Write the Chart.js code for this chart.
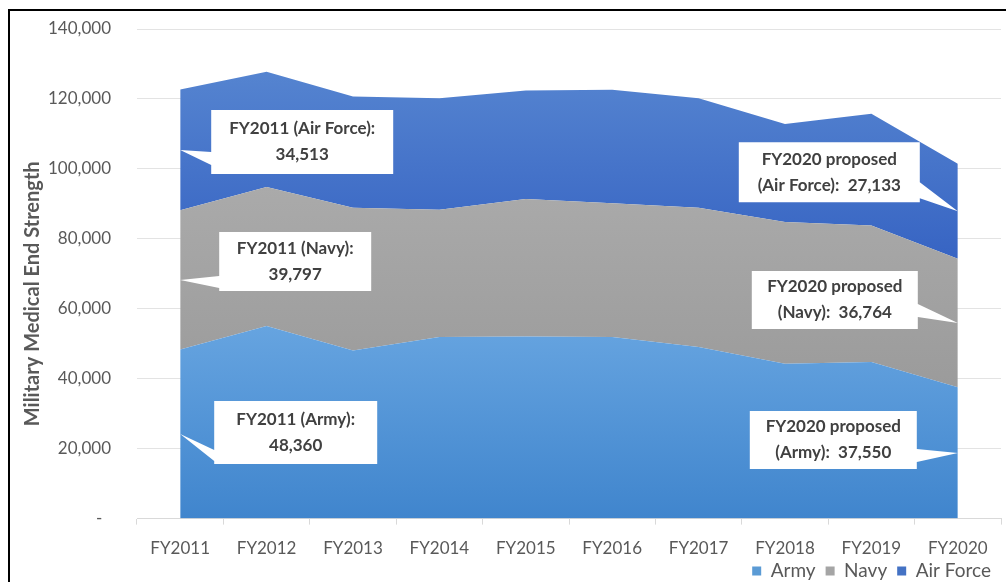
<!DOCTYPE html>
<html>
<head>
<meta charset="utf-8">
<script src="https://cdn.jsdelivr.net/npm/chart.js@4.4.1/dist/chart.umd.min.js"></script>
<style>
html,body{margin:0;padding:0;background:#fff;overflow:hidden}
#frame{position:absolute;left:8px;top:9px;width:1100px;height:700px;border-top:2px solid #000;border-left:2px solid #000}
#wrap{position:absolute;left:0;top:0;width:1006px;height:582px}
</style>
</head>
<body>
<div id="frame"></div>
<div id="wrap"><canvas id="chart"></canvas></div>
<script>
const years=["FY2011","FY2012","FY2013","FY2014","FY2015","FY2016","FY2017","FY2018","FY2019","FY2020"]
const army=[48360,55100,48100,51900,52100,51900,49100,44300,44800,37550]
const navy=[39797,39700,40800,36400,39300,38300,39800,40500,39000,36764]
const airForce=[34513,33000,31800,31900,31000,32400,31300,28000,32000,27133]
const yTicks=[0,20000,40000,60000,80000,100000,120000,140000]
const seriesNames=["Army","Navy","Air Force"]
const yTitle="Military Medical End Strength"

const legendColors=["#5b9bd5","#a5a5a5","#4472c4"]
const gradColors=[["#66a4e0","#4085cd"],["#aaaaaa","#9b9b9b"],["#5584d0","#3764c3"]]

const fmt=v=>v.toLocaleString("en-US")

// callout boxes: pointer tip sits at the middle of the band at that year
const callouts=[
{series:2,index:0,side:"left",dx:31,dy:-40,w:182,h:64,wedge:[42,55]},
{series:1,index:0,side:"left",dx:39,dy:-48,w:152,h:59,wedge:[44,56]},
{series:0,index:0,side:"left",dx:34,dy:-33,w:163,h:63,wedge:[49,60]},
{series:2,index:9,side:"right",dx:-38,dy:-69,w:181,h:60,wedge:[40,56]},
{series:1,index:9,side:"right",dx:-40,dy:-52,w:166,h:58,wedge:[33,46]},
{series:0,index:9,side:"right",dx:-41,dy:-42,w:167,h:58,wedge:[38,51]}
]
const allSeries=[army,navy,airForce]

function calloutText(c){
const v=allSeries[c.series][c.index]
const name=seriesNames[c.series]
if(c.index===0) return [years[c.index]+" ("+name+"):",fmt(v)]
return [years[c.index]+" proposed","("+name+"):  "+fmt(v)]
}

function bandGradient(i){
return function(ctx){
const chart=ctx.chart
const area=chart.chartArea
if(!area) return legendColors[i]
const y=chart.scales.y
let top=0,bottom=Infinity
for(let k=0;k<years.length;k++){
let base=0
for(let s=0;s<i;s++) base+=allSeries[s][k]
top=Math.max(top,base+allSeries[i][k])
bottom=Math.min(bottom,base)
}
const g=chart.ctx.createLinearGradient(0,y.getPixelForValue(top),0,y.getPixelForValue(bottom))
g.addColorStop(0,gradColors[i][0])
g.addColorStop(1,gradColors[i][1])
return g
}
}

const calloutPlugin={
id:"callouts",
afterLayout(chart){
// x labels hang below the shortened axis box, so don't clip them
chart.scales.x.bottom=chart.height
},
afterDatasetsDraw(chart){
const ctx=chart.ctx
const yScale=chart.scales.y
ctx.save()
callouts.forEach(c=>{
const pt=chart.getDatasetMeta(c.series).data[c.index]
const base=c.series===0?yScale.getPixelForValue(0):chart.getDatasetMeta(c.series-1).data[c.index].y
const tx=pt.x
const ty=(pt.y+base)/2
const by=ty+c.dy
ctx.beginPath()
if(c.side==="left"){
const bx=tx+c.dx
ctx.moveTo(bx,by)
ctx.lineTo(bx+c.w,by)
ctx.lineTo(bx+c.w,by+c.h)
ctx.lineTo(bx,by+c.h)
ctx.lineTo(bx,by+c.wedge[1])
ctx.lineTo(tx,ty)
ctx.lineTo(bx,by+c.wedge[0])
ctx.closePath()
}else{
const br=tx+c.dx
const bx=br-c.w
ctx.moveTo(bx,by)
ctx.lineTo(br,by)
ctx.lineTo(br,by+c.wedge[0])
ctx.lineTo(tx,ty)
ctx.lineTo(br,by+c.wedge[1])
ctx.lineTo(br,by+c.h)
ctx.lineTo(bx,by+c.h)
ctx.closePath()
}
ctx.fillStyle="#ffffff"
ctx.fill()
const lines=calloutText(c)
const cx=c.side==="left"?tx+c.dx+c.w/2:tx+c.dx-c.w/2
const cy=by+c.h/2
ctx.fillStyle="#404040"
ctx.font="bold 17px Lato"
ctx.textAlign="center"
ctx.textBaseline="middle"
ctx.fillText(lines[0],cx,cy-13)
ctx.fillText(lines[1],cx,cy+13)
})
ctx.restore()
}
}

// axis title, drawn a little below the middle of the y axis like the original
const yTitlePlugin={
id:"ytitle",
afterDraw(chart){
const ctx=chart.ctx
const a=chart.chartArea
ctx.save()
ctx.translate(33,(a.top+a.bottom)/2+20)
ctx.rotate(-Math.PI/2)
ctx.fillStyle="#595959"
ctx.font="bold 20px Lato"
ctx.textAlign="center"
ctx.textBaseline="middle"
ctx.fillText(yTitle,0,0)
ctx.restore()
}
}

const ctx=document.getElementById("chart")
const chart=new Chart(ctx,{
type:"line",
data:{
labels:years,
datasets:seriesNames.map((n,i)=>({
label:n,
data:allSeries[i],
fill:i===0?"origin":"-1",
backgroundColor:bandGradient(i),
borderWidth:0,
pointRadius:0,
tension:0
}))
},
options:{
responsive:true,
maintainAspectRatio:false,
animation:false,
layout:{padding:{left:0,top:29,right:5,bottom:-8.5}},
plugins:{
tooltip:{enabled:false},
legend:{
position:"bottom",
align:"end",
labels:{
color:"#595959",
font:{family:"Lato",size:19},
boxWidth:9,
boxHeight:9,
padding:10,
generateLabels(chart){
return seriesNames.map((n,i)=>({text:n,fillStyle:legendColors[i],strokeStyle:legendColors[i],lineWidth:0,datasetIndex:i,fontColor:"#595959"}))
}
}
}
},
scales:{
x:{
offset:true,
afterFit(scale){scale.height=scale.height-21.5},
grid:{offset:true,drawOnChartArea:false,drawTicks:true,tickLength:6,color:"#d9d9d9"},
border:{color:"#d9d9d9"},
ticks:{color:"#595959",font:{family:"Lato",size:17},padding:14,maxRotation:0}
},
y:{
stacked:true,
min:0,
max:140000,
afterBuildTicks(scale){scale.ticks=yTicks.map(v=>({value:v}))},
afterFit(scale){
scale.width=137
scale.paddingTop=0
scale.paddingBottom=0
},
grid:{color:"#e3e3e3",drawTicks:false},
border:{display:false},
ticks:{
color:"#595959",
font:{family:"Lato",size:17},
padding:26,
callback:v=>v===0?"-  ":fmt(v)
}
}
}
},
plugins:[calloutPlugin,yTitlePlugin]
})
</script>
</body>
</html>
